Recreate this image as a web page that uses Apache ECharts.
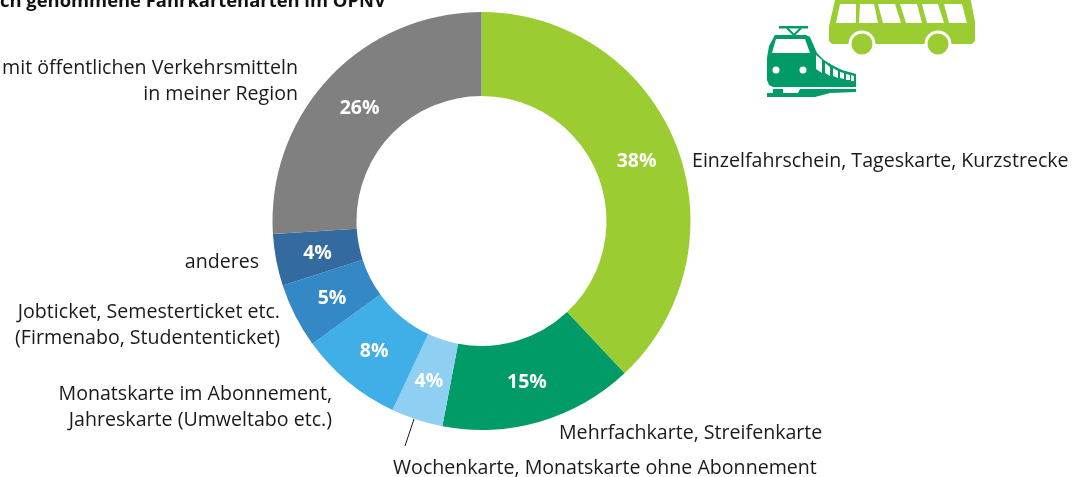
<!DOCTYPE html>
<html><head><meta charset="utf-8">
<style>html,body{margin:0;padding:0;background:#fff;overflow:hidden}#c{width:1084px;height:477px}</style>
<script src="https://cdn.jsdelivr.net/npm/echarts@6/dist/echarts.min.js"></script></head>
<body><div id="c"></div>
<script>
const titleText = 'ch genommene Fahrkartenarten im ÖPNV';
const categories = ['Einzelfahrschein, Tageskarte, Kurzstrecke','Mehrfachkarte, Streifenkarte','Wochenkarte, Monatskarte ohne Abonnement','Monatskarte im Abonnement,\nJahreskarte (Umweltabo etc.)','Jobticket, Semesterticket etc.\n(Firmenabo, Studententicket)','anderes','mit öffentlichen Verkehrsmitteln\nin meiner Region'];
const values = [38,15,4,8,5,4,26];
const colors = ['#9BCD33','#009B67','#8FCFF1','#40AEE7','#3588C6','#336A9F','#808080'];
const labelAnchors = [[692,161,'left'],[559,433,'left'],[393,468,'left'],[332,407,'right'],[280,325,'right'],[259,262,'right'],[298,81,'right']];
const pctNudges = [[-3,3.5],[-2,-1.5],[0,-1.5],[1,-0.5],[2,0.5],[3,0.5],[2,3.5]];
const FONT = 'Open Sans';
const FS = 19.6;
const center = [481.5,221], radius = [125,209];
const data = categories.map((n,i)=>({name:n,value:values[i],itemStyle:{color:colors[i]}}));
const poly=(pts,fill)=>({type:'polygon',shape:{points:pts},style:{fill},silent:true});
const circ=(cx,cy,r,fill)=>({type:'circle',shape:{cx,cy,r},style:{fill},silent:true});
const G='#9BCD33',T='#009B67',W='#fff';
const icons=[
 poly([[836,-4],[970,-4],[975,22],[975,41],[972,44],[832,44],[829,41],[829,26]],G),
 poly([[840,4],[856,4],[856,23],[836,23]],W),poly([[860,4],[874,4],[878,23],[859,23]],W),
 poly([[878,4],[895,4],[901,23],[883,23]],W),poly([[900,4],[917,4],[922,23],[906,23]],W),
 poly([[922,4],[938,4],[944,23],[927,23]],W),poly([[944,4],[962,4],[967,23],[949,23]],W),
 circ(862,44,13.5,W),circ(862,44,10.5,G),circ(938,44,13.5,W),circ(938,44,10.5,G),
 {type:'rect',shape:{x:779,y:26,width:29,height:2.5},style:{fill:T},silent:true},
 {type:'polyline',shape:{points:[[787,28],[794,35],[801,28]]},style:{stroke:T,lineWidth:2,fill:null},silent:true},
 poly([[775,35],[806,35],[810,37],[813,44],[817,53],[824,60],[832,65],[842,70],[856,74],[856,87],[773,87],[769,85],[767,80],[767,58],[769,46]],T),
 poly([[776,39],[805,39],[810,53],[772,53]],W),circ(776,70,3.5,W),circ(803,70,3.5,W),
 poly([[816,55],[822,60],[822,73],[816,69]],W),poly([[825,63],[830,67],[830,76],[825,73]],W),
 poly([[833,68],[838,71],[838,78],[833,76]],W),poly([[840,72],[844,73],[844,79],[840,78]],W),
 poly([[846,74],[850,75],[850,80],[846,80]],W),poly([[851,75],[854,76],[854,81],[851,81]],W),
 poly([[767,93],[773,93],[773,89],[783,89],[783,93],[798,93],[800,89],[856,89],[856,92],[830,93],[815,97],[767,97]],T),
 {type:'line',shape:{x1:414,y1:419,x2:405,y2:446},style:{stroke:'#1a1a1a',lineWidth:1},silent:true}
];
const chart = echarts.init(document.getElementById('c'),null,{renderer:'canvas'});
chart.setOption({
 animation:false,
 title:{text:titleText,left:0,top:-7,padding:0,textStyle:{fontFamily:FONT,fontSize:18.4,fontWeight:'bold',color:'#111'}},
 graphic:{elements:icons},
 series:[
  {type:'pie',center,radius,startAngle:90,clockwise:true,silent:true,data,
   label:{show:true,position:'inside',formatter:p=>p.value+'%',color:'#fff',fontFamily:FONT,fontSize:19.5,fontWeight:'bold'},labelLine:{show:false},
   labelLayout:p=>({dx:pctNudges[p.dataIndex][0],dy:pctNudges[p.dataIndex][1]}),
   itemStyle:{borderWidth:0}},
  {type:'pie',center,radius,startAngle:90,clockwise:true,silent:true,avoidLabelOverlap:false,
   data:categories.map((n,i)=>({name:n,value:values[i]})),
   itemStyle:{color:'transparent'},
   label:{show:true,position:'outside',formatter:p=>p.name,color:'#1a1a1a',fontFamily:FONT,fontSize:FS,lineHeight:26},
   labelLine:{show:false},
   labelLayout:p=>{const a=labelAnchors[p.dataIndex];return {x:a[0],y:a[1],align:a[2],verticalAlign:'middle'};}}
 ]
});
</script></body></html>
